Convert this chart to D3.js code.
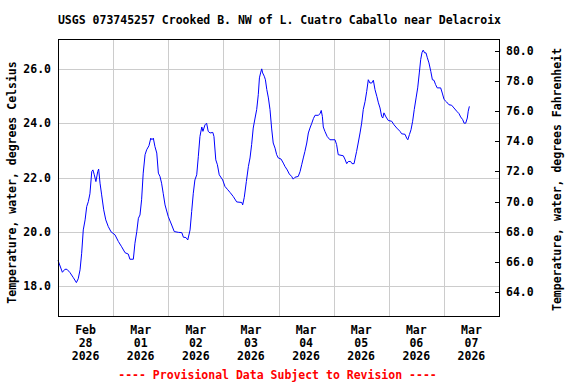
<!DOCTYPE html>
<html>
<head>
<meta charset="utf-8">
<script src="https://cdn.jsdelivr.net/npm/d3@7"></script>
<style>
  body { margin: 0; background: #fff; }
  text { font-family: "DejaVu Sans Mono", monospace; font-weight: bold; font-size: 11.5px; fill: #000; }
</style>
</head>
<body>
<div id="chart"></div>
<script>
var title = "USGS 073745257 Crooked B. NW of L. Cuatro Caballo near Delacroix";
var leftLabel = "Temperature, water, degrees Celsius";
var rightLabel = "Temperature, water, degrees Fahrenheit";
var footNote = "---- Provisional Data Subject to Revision ----";

// hours since 2026-02-28 00:00
var hours = [0, 1.9, 3.0, 3.9, 5.2, 6.7, 8.0, 8.8, 9.6, 10.3, 11.0, 11.8, 12.5, 13.2, 13.9,
  14.7, 15.2, 15.8, 16.5, 17.3, 17.7, 18.3, 19.0, 19.9, 20.8, 21.9, 23.1, 24.8, 26.3,
  27.7, 29.2, 30.6, 31.3, 32.8, 33.5, 34.3, 35.0, 35.7, 36.4, 37.1, 37.9, 38.6, 39.6,
  40.4, 40.9, 41.5, 42.2, 43.0, 43.7, 44.4, 45.1, 45.8, 46.6, 48.0, 49.5, 50.6, 52.4,
  53.9, 54.6, 55.7, 56.5, 57.5, 58.2, 58.9, 59.6, 60.4, 61.1, 61.8, 62.6, 63.1, 64.0,
  64.7, 65.4, 66.2, 67.4, 67.9, 68.7, 69.4, 70.2, 71.7, 72.7, 73.9, 74.9, 76.3, 77.8,
  80.0, 80.4, 81.1, 82.0, 82.9, 83.6, 84.3, 85.0, 85.8, 86.5, 87.2, 87.7, 88.2, 88.7,
  89.1, 89.8, 90.3, 90.9, 91.6, 92.3, 93.0, 93.7, 94.5, 95.2, 95.9, 97.1, 98.1, 98.8,
  99.8, 100.7, 101.7, 102.4, 103.2, 104.6, 105.4, 106.1, 106.8, 107.5, 108.3, 109.0,
  109.7, 110.5, 111.2, 111.9, 113.3, 114.1, 114.6, 115.1, 115.5, 116.2, 117.2, 118.4,
  120.6, 121.3, 122.0, 124.2, 124.9, 125.7, 126.4, 127.4, 128.0, 128.9, 129.4, 130.0,
  130.7, 131.5, 132.2, 132.9, 133.7, 134.4, 135.1, 135.8, 136.6, 137.3, 138.0, 138.8,
  139.5, 140.2, 140.9, 141.4, 141.9, 142.8, 143.8, 145.3, 146.3, 147.5, 148.9, 149.6,
  151.1, 151.8, 152.3, 153.0, 153.7, 154.4, 155.1, 155.9, 156.6, 157.3, 157.9, 158.5,
  159.0, 159.6, 160.2, 160.8, 161.5, 162.3, 163.0, 163.7, 164.4, 165.1, 166.6, 167.3,
  168.1, 169.2, 170.2, 171.4, 172.4, 173.6, 174.6, 175.3, 176.2, 176.8, 177.5, 178.2,
  178.6, 179.1];

var tempC = [18.95, 18.51, 18.62, 18.62, 18.50, 18.31, 18.13, 18.27, 18.60, 19.21, 20.07, 20.44, 20.93, 21.11, 21.40,
  22.22, 22.28, 22.10, 21.85, 22.22, 22.31, 21.79, 21.36, 20.81, 20.44, 20.19, 20.00, 19.89, 19.64,
  19.45, 19.23, 19.18, 18.99, 18.99, 19.58, 20.01, 20.50, 20.62, 21.18, 22.16, 22.84, 23.02, 23.17,
  23.45, 23.39, 23.45, 23.14, 22.90, 22.16, 22.04, 21.79, 21.42, 20.99, 20.56, 20.25, 20.01, 19.98,
  19.97, 19.80, 19.79, 19.70, 20.07, 20.75, 21.42, 21.91, 22.10, 22.78, 23.51, 23.86, 23.70, 23.94,
  24.00, 23.70, 23.64, 23.66, 23.51, 22.65, 22.47, 22.10, 21.91, 21.67, 21.55, 21.45, 21.30, 21.10,
  21.08, 20.99, 21.27, 21.85, 22.41, 22.72, 23.21, 23.82, 24.19, 24.50, 25.05, 25.67, 25.85, 26.00,
  25.85, 25.73, 25.60, 25.24, 24.93, 24.50, 23.82, 23.27, 23.08, 22.84, 22.72, 22.68, 22.53, 22.41,
  22.28, 22.13, 22.04, 21.94, 22.01, 22.04, 22.22, 22.47, 22.72, 22.96, 23.27, 23.64,
  23.82, 24.00, 24.17, 24.29, 24.29, 24.35, 24.47, 24.25, 23.86, 23.70, 23.51, 23.39,
  23.39, 23.21, 22.84, 22.80, 22.68, 22.51, 22.59, 22.59, 22.51, 22.51, 22.72, 22.96,
  23.27, 23.64, 24.00, 24.50, 24.80, 25.17, 25.60, 25.48, 25.48, 25.58, 25.24, 24.99,
  24.75, 24.56, 24.25, 24.19, 24.38, 24.23, 24.10, 24.07, 23.94, 23.82, 23.70, 23.61,
  23.59, 23.45, 23.39, 23.58, 23.76, 24.07, 24.50, 24.93, 25.30, 25.85, 26.34, 26.61,
  26.69, 26.59, 26.59, 26.41, 26.22, 25.91, 25.60, 25.58, 25.42, 25.30, 25.30, 25.11,
  24.87, 24.78, 24.68, 24.66, 24.56, 24.44, 24.35, 24.23, 24.13, 24.00, 24.00, 24.19,
  24.44, 24.62];

var dayMonths = ["Feb", "Mar", "Mar", "Mar", "Mar", "Mar", "Mar", "Mar"];
var dayNums = ["28", "01", "02", "03", "04", "05", "06", "07"];
var dayYears = ["2026", "2026", "2026", "2026", "2026", "2026", "2026", "2026"];
var celsiusTicks = [18, 20, 22, 24, 26];
var fahrenheitTicks = [64, 66, 68, 70, 72, 74, 76, 78, 80];

var width = 576, height = 384;
var plotL = 58, plotR = 499, plotT = 39, plotB = 316;

var t0 = Date.UTC(2026, 1, 28);
var hourMs = 3600 * 1000;
var data = hours.map(function(h, i) {
  return { date: new Date(t0 + h * hourMs), value: tempC[i] };
});

var x = d3.scaleUtc()
    .domain([new Date(t0), new Date(t0 + 8 * 24 * hourMs)])
    .range([plotL, plotR]);
var y = d3.scaleLinear().domain([16.9, 27.1]).range([plotB, plotT]);
var yF = d3.scaleLinear()
    .domain([16.9 * 9 / 5 + 32, 27.1 * 9 / 5 + 32])
    .range([plotB, plotT]);

var svg = d3.select("#chart").append("svg")
    .attr("width", width).attr("height", height);

svg.append("text")
    .attr("x", (plotL + plotR) / 2 + 1).attr("y", 24)
    .attr("text-anchor", "middle")
    .text(title);

var days = d3.range(8).map(function(i) { return new Date(t0 + i * 24 * hourMs); });

// grid
var grid = svg.append("g").attr("transform", "translate(0.5,0.5)");
grid.selectAll(".vgrid")
    .data(days.slice(1))
    .enter().append("line")
    .attr("x1", function(d) { return Math.round(x(d)); })
    .attr("x2", function(d) { return Math.round(x(d)); })
    .attr("y1", plotT).attr("y2", plotB)
    .style("stroke", "#cccccc");

grid.selectAll(".hgrid")
    .data(celsiusTicks)
    .enter().append("line")
    .attr("x1", plotL).attr("x2", plotR)
    .attr("y1", function(d) { return Math.round(y(d)); })
    .attr("y2", function(d) { return Math.round(y(d)); })
    .style("stroke", "#cccccc");

// data line
svg.append("path")
    .datum(data)
    .attr("fill", "none")
    .attr("stroke", "#0000ff")
    .attr("stroke-width", 1)
    .attr("d", d3.line()
      .x(function(d) { return x(d.date); })
      .y(function(d) { return y(d.value); }));

// frame
svg.append("rect")
    .attr("x", plotL + 0.5).attr("y", plotT + 0.5)
    .attr("width", plotR - plotL).attr("height", plotB - plotT)
    .style("fill", "none").style("stroke", "#000");

// left axis labels
svg.selectAll(".clab")
    .data(celsiusTicks)
    .enter().append("text")
    .attr("x", 51)
    .attr("y", function(d) { return y(d) + 4; })
    .attr("text-anchor", "end")
    .text(function(d) { return d.toFixed(1); });

// right axis ticks + labels
svg.selectAll(".ftick")
    .data(fahrenheitTicks)
    .enter().append("line")
    .attr("x1", plotR - 4).attr("x2", plotR)
    .attr("y1", function(d) { return Math.round(yF(d)) + 0.5; })
    .attr("y2", function(d) { return Math.round(yF(d)) + 0.5; })
    .style("stroke", "#000");

svg.selectAll(".flab")
    .data(fahrenheitTicks)
    .enter().append("text")
    .attr("x", 506)
    .attr("y", function(d) { return yF(d) + 4; })
    .text(function(d) { return d.toFixed(1); });

// x labels at noon of each day
var xl = svg.selectAll(".xlab")
    .data(days)
    .enter().append("text")
    .attr("text-anchor", "middle")
    .attr("transform", function(d) { return "translate(" + x(new Date(+d + 12 * hourMs)) + ",0)"; });
xl.append("tspan").attr("x", 0).attr("y", 334).text(function(d, i) { return dayMonths[i]; });
xl.append("tspan").attr("x", 0).attr("y", 347).text(function(d, i) { return dayNums[i]; });
xl.append("tspan").attr("x", 0).attr("y", 360).text(function(d, i) { return dayYears[i]; });

// axis titles
svg.append("text")
    .attr("transform", "translate(16," + ((plotT + plotB) / 2 + 5) + ") rotate(-90)")
    .attr("text-anchor", "middle")
    .text(leftLabel);

svg.append("text")
    .attr("transform", "translate(561," + ((plotT + plotB) / 2 + 2) + ") rotate(-90)")
    .attr("text-anchor", "middle")
    .text(rightLabel);

svg.append("text")
    .attr("x", (plotL + plotR) / 2 - 1).attr("y", 379)
    .attr("text-anchor", "middle")
    .style("fill", "#ff0000")
    .text(footNote);
</script>
</body>
</html>
